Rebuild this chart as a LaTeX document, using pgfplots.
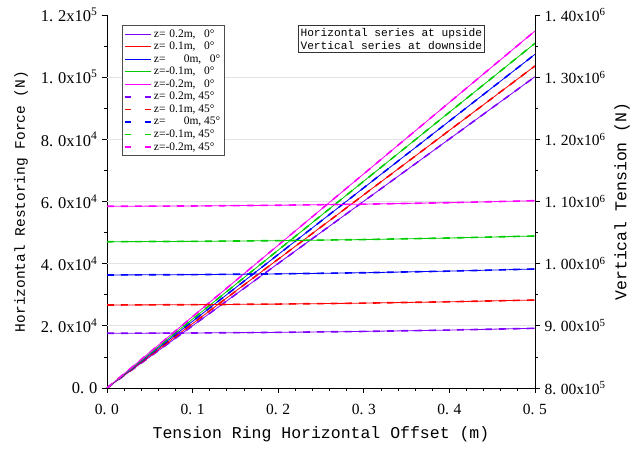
\documentclass[border=0pt]{standalone}
\usepackage{pgfplots}
\pgfplotsset{compat=1.18}
\usepackage{fontspec}
\setmainfont{Liberation Serif}
\newfontfamily\monof{Liberation Mono}

\definecolor{cViolet}{RGB}{128,0,255}
\definecolor{cRed}{RGB}{255,0,0}
\definecolor{cBlue}{RGB}{0,0,255}
\definecolor{cGreen}{RGB}{0,204,0}
\definecolor{cMag}{RGB}{255,0,255}

\newcommand{\dt}{.\hspace{0.3em}}
\newcommand{\sci}[3]{#1\dt#2x10\textsuperscript{#3}}

\pgfplotsset{
  solidl/.style={solid, line width=0.8pt},
  dashl/.style={line width=1.6pt, dash pattern=on 7pt off 7pt},
  legdash/.style={line width=1.6pt, dash pattern=on 6pt off 14pt},
}

\begin{document}
\begin{tikzpicture}
\useasboundingbox (-107pt,-61pt) rectangle (524pt,388pt);

% left axis: horizontal restoring force
\begin{axis}[
  scale only axis, width=428pt, height=373pt,
  xmin=0, xmax=0.5, ymin=0, ymax=1.2e5,
  scaled ticks=false,
  axis x line*=bottom, axis y line*=left,
  axis line style={line width=0.9pt},
  tick align=outside,
  major tick length=5pt, minor tick length=3pt,
  tick style={line width=0.8pt, black},
  xtick={0,0.1,0.2,0.3,0.4,0.5},
  xticklabels={0\dt0,0\dt1,0\dt2,0\dt3,0\dt4,0\dt5},
  minor x tick num=4,
  ytick={0,2e4,4e4,6e4,8e4,1e5,1.2e5},
  yticklabels={0\dt0,\sci{2}{0}{4},\sci{4}{0}{4},\sci{6}{0}{4},\sci{8}{0}{4},\sci{1}{0}{5},\sci{1}{2}{5}},
  minor y tick num=1,
  extra y ticks={2e4,4e4,6e4,8e4,1e5},
  extra y tick labels={},
  extra y tick style={grid=major, major grid style={gray!22, line width=0.8pt}, tick style={draw=none}},
  xticklabel style={font=\fontsize{15.5}{17}\selectfont, yshift=-8pt},
  yticklabel style={font=\fontsize{16.5}{18}\selectfont, xshift=-1pt},
  xlabel={\monof Tension Ring Horizontal Offset (m)},
  ylabel={\monof Horizontal Restoring Force (N)},
  xlabel style={font=\fontsize{16.5}{18}\selectfont, yshift=-5pt},
  ylabel style={font=\fontsize{14.5}{16}\selectfont, yshift=-4pt},
  legend style={at={(0.035,0.973)}, anchor=north west, draw=black!70, line width=0.8pt,
    font=\fontsize{11.5}{13}\selectfont, row sep=-0.6pt, inner sep=2pt},
  legend cell align=left,
  legend image code/.code={\draw[#1] (0pt,0pt) -- (26pt,0pt);},
]
% horizontal restoring force, 0 degree
\addplot[cViolet, solidl, forget plot] coordinates {(0,0) (0.25,50075) (0.5,100150)};
\addplot[cRed, solidl, forget plot] coordinates {(0,0) (0.25,51800) (0.5,103600)};
\addplot[cBlue, solidl, forget plot] coordinates {(0,0) (0.25,53680) (0.5,107360)};
\addplot[cGreen, solidl, forget plot] coordinates {(0,0) (0.25,55450) (0.5,110900)};
\addplot[cMag, solidl, forget plot] coordinates {(0,0) (0.25,57425) (0.5,114850)};
% horizontal restoring force, 45 degree
\addplot[cViolet, dashl, forget plot] coordinates {(0,0) (0.25,50075) (0.5,100150)};
\addplot[cRed, dashl, forget plot] coordinates {(0,0) (0.25,51800) (0.5,103600)};
\addplot[cBlue, dashl, forget plot] coordinates {(0,0) (0.25,53680) (0.5,107360)};
\addplot[cGreen, dashl, forget plot] coordinates {(0,0) (0.25,55450) (0.5,110900)};
\addplot[cMag, dashl, forget plot] coordinates {(0,0) (0.25,57425) (0.5,114850)};
% legend
\addlegendimage{cViolet, solidl}\addlegendentry{z=\hphantom{-}0.2m,\ \ \ 0\textdegree}
\addlegendimage{cRed, solidl}\addlegendentry{z=\hphantom{-}0.1m,\ \ \ 0\textdegree}
\addlegendimage{cBlue, solidl}\addlegendentry{z=\hphantom{-0.}\ \ 0m,\ \ \ 0\textdegree}
\addlegendimage{cGreen, solidl}\addlegendentry{z=-0.1m,\ \ \ 0\textdegree}
\addlegendimage{cMag, solidl}\addlegendentry{z=-0.2m,\ \ \ 0\textdegree}
\addlegendimage{cViolet, legdash}\addlegendentry{z=\hphantom{-}0.2m, 45\textdegree}
\addlegendimage{cRed, legdash}\addlegendentry{z=\hphantom{-}0.1m, 45\textdegree}
\addlegendimage{cBlue, legdash}\addlegendentry{z=\hphantom{-0.}\ \ 0m, 45\textdegree}
\addlegendimage{cGreen, legdash}\addlegendentry{z=-0.1m, 45\textdegree}
\addlegendimage{cMag, legdash}\addlegendentry{z=-0.2m, 45\textdegree}
\node[draw=black!80, line width=0.8pt, anchor=north east, align=left, inner sep=2.5pt,
  font=\monof\fontsize{11.2}{13.5}\selectfont]
  at (rel axis cs:0.883,0.973) {Horizontal series at upside\\Vertical series at downside};
\end{axis}

% right axis: vertical tension
\begin{axis}[
  scale only axis, width=428pt, height=373pt,
  xmin=0, xmax=0.5, ymin=8e5, ymax=1.4e6,
  scaled ticks=false,
  axis x line=none, axis y line*=right,
  axis line style={line width=0.9pt},
  tick align=outside,
  major tick length=5pt, minor tick length=3pt,
  tick style={line width=0.8pt, black},
  ytick={8e5,9e5,1e6,1.1e6,1.2e6,1.3e6,1.4e6},
  yticklabels={\sci{8}{00}{5},\sci{9}{00}{5},\sci{1}{00}{6},\sci{1}{10}{6},\sci{1}{20}{6},\sci{1}{30}{6},\sci{1}{40}{6}},
  minor y tick num=1,
  ticklabel style={font=\fontsize{15.5}{17}\selectfont},
  yticklabel style={xshift=1pt},
  ylabel={\monof Vertical Tension (N)},
  ylabel style={font=\fontsize{16.5}{18}\selectfont, yshift=-2pt},
]
% vertical tension, 0 degree
\addplot[cViolet, solidl] coordinates {(0,888000) (0.1,888500) (0.2,889500) (0.3,891000) (0.4,893200) (0.5,896000)};
\addplot[cRed, solidl] coordinates {(0,933500) (0.1,934000) (0.2,935000) (0.3,936500) (0.4,938700) (0.5,941500)};
\addplot[cBlue, solidl] coordinates {(0,981800) (0.1,982400) (0.2,983600) (0.3,985400) (0.4,988000) (0.5,991400)};
\addplot[cGreen, solidl] coordinates {(0,1035300) (0.1,1035900) (0.2,1037000) (0.3,1038800) (0.4,1041300) (0.5,1044500)};
\addplot[cMag, solidl] coordinates {(0,1092300) (0.1,1092800) (0.2,1094000) (0.3,1095700) (0.4,1098100) (0.5,1101300)};
% vertical tension, 45 degree
\addplot[cViolet, dashl] coordinates {(0,888000) (0.1,888500) (0.2,889500) (0.3,891000) (0.4,893200) (0.5,896000)};
\addplot[cRed, dashl] coordinates {(0,933500) (0.1,934000) (0.2,935000) (0.3,936500) (0.4,938700) (0.5,941500)};
\addplot[cBlue, dashl] coordinates {(0,981800) (0.1,982400) (0.2,983600) (0.3,985400) (0.4,988000) (0.5,991400)};
\addplot[cGreen, dashl] coordinates {(0,1035300) (0.1,1035900) (0.2,1037000) (0.3,1038800) (0.4,1041300) (0.5,1044500)};
\addplot[cMag, dashl] coordinates {(0,1092300) (0.1,1092800) (0.2,1094000) (0.3,1095700) (0.4,1098100) (0.5,1101300)};
\end{axis}
\end{tikzpicture}
\end{document}
